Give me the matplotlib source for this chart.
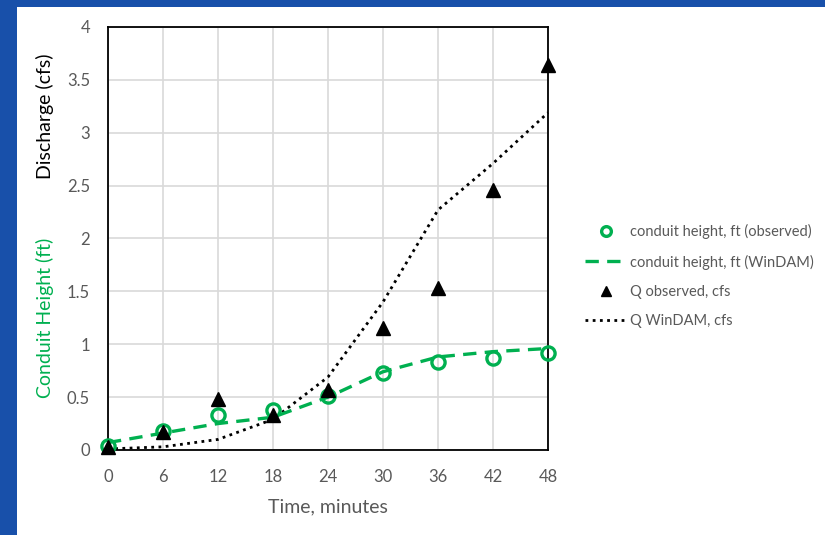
import matplotlib
matplotlib.use("Agg")
import matplotlib.pyplot as plt
from matplotlib.patches import Rectangle
from matplotlib.lines import Line2D

plt.rcParams['font.family'] = ['Lato', 'DejaVu Sans']

time_min = [0, 6, 12, 18, 24, 30, 36, 42, 48]
height_obs = [0.04, 0.18, 0.33, 0.38, 0.51, 0.73, 0.83, 0.87, 0.92]
height_windam = [0.07, 0.16, 0.25, 0.31, 0.50, 0.74, 0.88, 0.93, 0.96]
q_obs = [0.03, 0.17, 0.48, 0.33, 0.57, 1.15, 1.53, 2.46, 3.64]
q_windam = [0.01, 0.03, 0.10, 0.29, 0.69, 1.40, 2.27, 2.71, 3.19]
x_ticks = [0, 6, 12, 18, 24, 30, 36, 42, 48]
y_ticks = [0, 0.5, 1, 1.5, 2, 2.5, 3, 3.5, 4]
y_tick_labels = ['0', '0.5', '1', '1.5', '2', '2.5', '3', '3.5', '4']

green = '#00B050'
gray = '#595959'

W, H = 825, 535
fig = plt.figure(figsize=(W / 100, H / 100), dpi=100)
fig.patch.set_facecolor('#1850aa')
fig.add_artist(Rectangle((17 / W, 0), 1 - 17 / W, (H - 7) / H,
                         transform=fig.transFigure, facecolor='white',
                         edgecolor='none', zorder=0))

ax = fig.add_axes([108 / W, (H - 450) / H, 440 / W, 423 / H])
ax.set_facecolor('white')
ax.set_xlim(0, 48)
ax.set_ylim(0, 4)
ax.set_xticks(x_ticks)
ax.set_yticks(y_ticks)
ax.set_yticklabels(y_tick_labels)
ax.grid(True, color='#d9d9d9', linewidth=1.2)
ax.set_axisbelow(True)
for s in ax.spines.values():
    s.set_color('black')
    s.set_linewidth(1.3)
ax.tick_params(length=0, labelsize=12, labelcolor=gray)
ax.tick_params(axis='y', pad=13)
ax.tick_params(axis='x', pad=14)

ax.plot(time_min, q_windam, color='black', linestyle=(0, (1, 1.6)), linewidth=2.0,
        zorder=3, label='Q WinDAM, cfs', clip_on=False)
ax.plot(time_min, height_windam, color=green, linestyle=(0, (4, 2.5)), linewidth=2.4,
        zorder=3, label='conduit height, ft (WinDAM)', clip_on=False)
ax.plot(time_min, height_obs, linestyle='none', marker='o', markersize=9.5,
        markerfacecolor='none', markeredgecolor=green, markeredgewidth=2.4,
        zorder=4, label='conduit height, ft (observed)', clip_on=False)
ax.plot(time_min, q_obs, linestyle='none', marker='^', markersize=9.5,
        color='black', zorder=5, label='Q observed, cfs', clip_on=False)

fig.text(328 / W, 1 - 507 / H, 'Time, minutes', fontsize=14, color=gray,
         ha='center', va='center')

fig.text(45 / W, 1 - 116 / H, 'Discharge (cfs)', rotation=90, fontsize=14,
         color='black', ha='center', va='center')
fig.text(45 / W, 1 - 318 / H, 'Conduit Height (ft)', rotation=90, fontsize=14,
         color=green, ha='center', va='center')

handles = [
    Line2D([], [], linestyle='none', marker='o', markersize=7,
           markerfacecolor='none', markeredgecolor=green, markeredgewidth=2.4),
    Line2D([], [], color=green, linestyle=(0, (4, 2.5)), linewidth=2.4),
    Line2D([], [], linestyle='none', marker='^', markersize=7, color='black'),
    Line2D([], [], color='black', linestyle=(0, (1, 1.6)), linewidth=2.0),
]
labels = ['conduit height, ft (observed)', 'conduit height, ft (WinDAM)',
          'Q observed, cfs', 'Q WinDAM, cfs']
leg = fig.legend(handles, labels, loc='upper left',
                 bbox_to_anchor=(572 / W, 1 - 211 / H), frameon=False,
                 fontsize=10.5, handlelength=2.8, handletextpad=0.25,
                 labelspacing=1.05)
for t in leg.get_texts():
    t.set_color(gray)

fig.savefig('out.png', dpi=100, facecolor=fig.get_facecolor())
